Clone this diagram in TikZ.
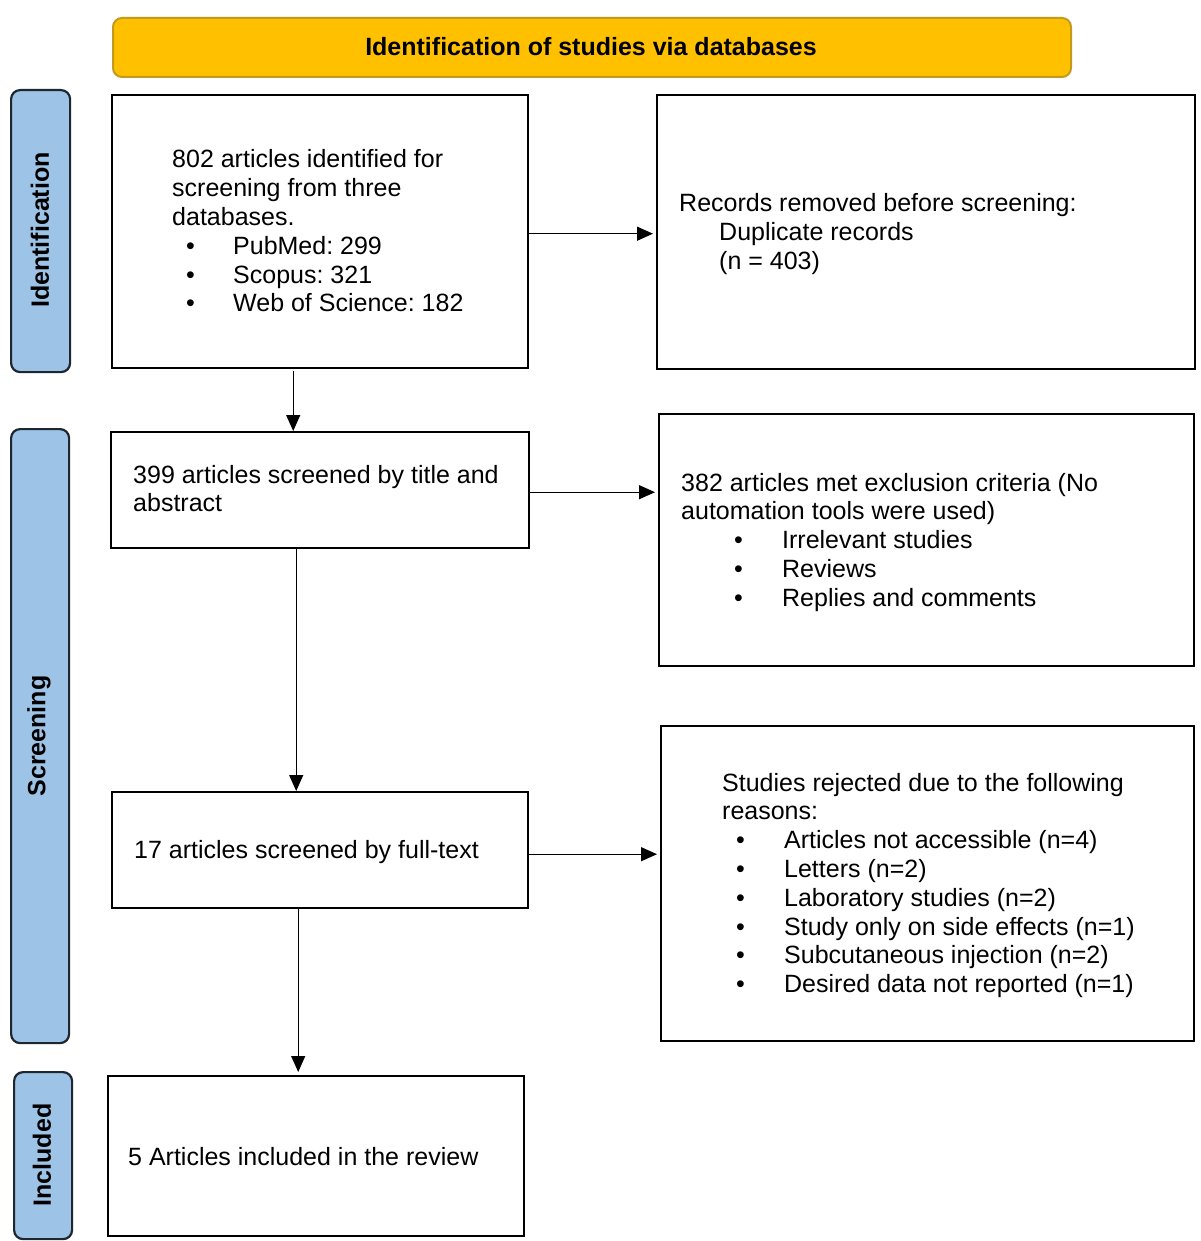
\documentclass[tikz,border=0pt]{standalone}
\usepackage{fontspec}
\setmainfont{Liberation Sans}
\usetikzlibrary{arrows.meta}
\definecolor{hdrfill}{HTML}{FFC000}
\definecolor{hdrline}{HTML}{C49A1C}
\definecolor{sidefill}{HTML}{9DC3E6}
\definecolor{sideline}{HTML}{1E2630}
\newcommand\bul[2]{\hspace*{#1pt}\makebox[#2pt][l]{•}}
\frenchspacing
\begin{document}
\begin{tikzpicture}[x=1pt,y=-1pt,
  box/.style={draw=black,line width=2.4pt,fill=white,inner sep=0pt,anchor=north west},
  side/.style={draw=sideline,line width=2.2pt,fill=sidefill,rounded corners=9pt,inner sep=0pt,anchor=north west},
  sidetxt/.style={rotate=90,font=\fontsize{25}{29}\bfseries\selectfont,inner sep=0pt},
  txt/.style={anchor=base west,inner sep=0pt,font=\fontsize{25}{28.8}\selectfont},
  arr/.style={line width=1.3pt,-{Triangle[length=16pt,width=14pt]},shorten >=3pt}]
\useasboundingbox (0,0) rectangle (1200,1241);
% header
\node[draw=hdrline,line width=2pt,fill=hdrfill,rounded corners=9pt,inner sep=0pt,anchor=north west,
  minimum width=958pt,minimum height=59pt] (hdr) at (112,17) {};
\node[font=\fontsize{25}{29}\bfseries\selectfont,inner sep=0pt] (hdrt) at (591,47) {Identification of studies via databases};
% side bars
\node[side,minimum width=59pt,minimum height=282pt] (s1) at (10,89) {};
\node[sidetxt] (s1t) at (40,230) {Identification};
\node[side,minimum width=58pt,minimum height=614pt] (s2) at (10,428) {};
\node[sidetxt] (s2t) at (39,736) {Screening};
\node[side,minimum width=58pt,minimum height=167pt] (s3) at (13,1071) {};
\node[sidetxt] (s3t) at (42,1155) {Included};
% boxes
\node[box,minimum width=416pt,minimum height=273pt] (b1) at (111,94) {};
\node[box,minimum width=538pt,minimum height=274pt] (b2) at (656,94) {};
\node[box,minimum width=418pt,minimum height=116pt] (b3) at (110,431) {};
\node[box,minimum width=535pt,minimum height=252pt] (b4) at (658,413) {};
\node[box,minimum width=416pt,minimum height=116pt] (b5) at (111,791) {};
\node[box,minimum width=533pt,minimum height=315pt] (b6) at (660,725) {};
\node[box,minimum width=416pt,minimum height=160pt] (b7) at (107,1075) {};
% texts
\node[txt] (t1) at (172,168) {\begin{tabular}[t]{@{}l@{}}802 articles identified for\\ screening from three\\ databases.\\
 \bul{14}{47}PubMed: 299\\ \bul{14}{47}Scopus: 321\\ \bul{14}{47}Web of Science: 182\end{tabular}};
\node[txt] (t2) at (679,212) {\begin{tabular}[t]{@{}l@{}}Records removed before screening:\\ \hspace*{40pt}Duplicate records\\ \hspace*{40pt}(n = 403)\end{tabular}};
\node[txt] (t3) at (133,483) {\begin{tabular}[t]{@{}l@{}}399 articles screened by title and\\ abstract\end{tabular}};
\node[txt] (t4) at (681,491) {\begin{tabular}[t]{@{}l@{}}382 articles met exclusion criteria (No\\ automation tools were used)\\
 \bul{53}{48}Irrelevant studies\\ \bul{53}{48}Reviews\\ \bul{53}{48}Replies and comments\end{tabular}};
\node[txt] (t5) at (134,858) {17 articles screened by full-text};
\node[txt] (t6) at (722,791) {\begin{tabular}[t]{@{}l@{}}Studies rejected due to the following\\ reasons:\\
 \bul{14}{48}Articles not accessible (n=4)\\ \bul{14}{48}Letters (n=2)\\ \bul{14}{48}Laboratory studies (n=2)\\
 \bul{14}{48}Study only on side effects (n=1)\\ \bul{14}{48}Subcutaneous injection (n=2)\\ \bul{14}{48}Desired data not reported (n=1)\end{tabular}};
\node[txt] (t7) at (128,1165) {5 Articles included in the review};
% connectors
\draw[arr] ([yshift=-2pt]b1.east) -- ([yshift=-2pt]b1.east -| b2.west);
\draw[arr] ([yshift=-2pt]b3.east) -- ([yshift=-2pt]b3.east -| b4.west);
\draw[arr] ([yshift=-4pt]b5.east) -- ([yshift=-4pt]b5.east -| b6.west);
\draw[arr,shorten >=0pt] ([xshift=-27pt,yshift=-2pt]b1.south) -- ([xshift=-27pt]b1.south |- b3.north);
\draw[arr,shorten >=0pt] ([xshift=-24pt]b3.south) -- ([xshift=-24pt]b3.south |- b5.north);
\draw[arr,shorten >=3pt] ([xshift=-22pt]b5.south) -- ([xshift=-22pt]b5.south |- b7.north);
\end{tikzpicture}
\end{document}
